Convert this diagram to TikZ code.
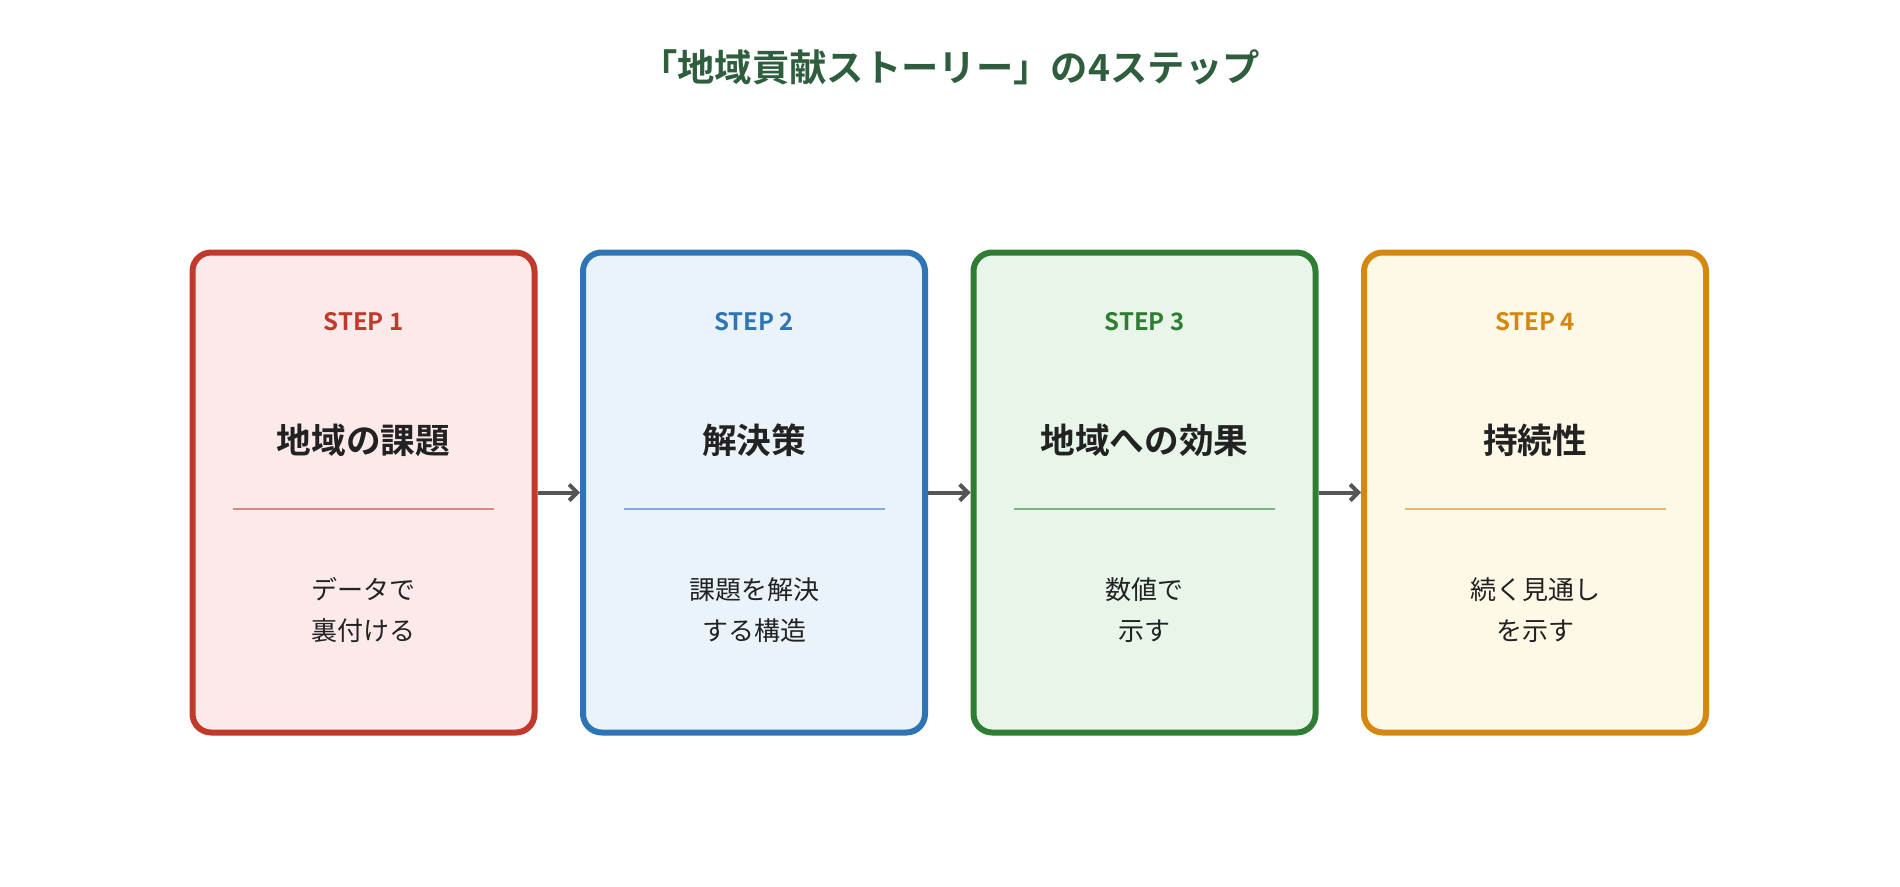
\documentclass[tikz,border=0pt]{standalone}
\usepackage{fontspec}
\setmainfont{Noto Sans CJK JP}[BoldFont={Noto Sans CJK JP Bold}]
\usetikzlibrary{arrows.meta, positioning}
\definecolor{titlegreen}{HTML}{2E5E3E}
\definecolor{ink}{HTML}{222222}
\definecolor{arrowgray}{HTML}{555555}
\definecolor{redline}{HTML}{C0392B}\definecolor{redfill}{HTML}{FCEAEB}
\definecolor{blueline}{HTML}{2E75B6}\definecolor{bluefill}{HTML}{EAF3FA}
\definecolor{greenline}{HTML}{2E7D32}\definecolor{greenfill}{HTML}{E8F5E9}
\definecolor{orangeline}{HTML}{D4880F}\definecolor{orangefill}{HTML}{FEF8E7}

\begin{document}
\begin{tikzpicture}[
      x=0.75pt, y=-0.75pt,
      card/.style={draw, line width=4.5pt, rounded corners=14pt, minimum width=342*0.75pt, minimum height=480*0.75pt, inner sep=0pt},
      steplabel/.style={font=\bfseries\fontsize{18}{22}\selectfont},
      heading/.style={font=\bfseries\fontsize{26}{30}\selectfont, text=ink},
      desc/.style={align=center, font=\fontsize{19.5}{31}\selectfont, text=ink},
      arrow/.style={-{Straight Barb[length=6pt, width=12pt]}, line width=3pt, draw=arrowgray}
    ]

    \useasboundingbox (0,0) rectangle (1900,886);

    \node[font=\bfseries\fontsize{28}{32}\selectfont, text=titlegreen] (title) at (950,67) {「地域貢献ストーリー」の4ステップ};

    \foreach \i/\col/\name/\txt [count=\n] in {
        0/red/地域の課題/{データで\\裏付ける},
        1/blue/解決策/{課題を解決\\する構造},
        2/green/地域への効果/{数値で\\示す},
        3/orange/持続性/{続く見通し\\を示す}} {
      \node[card, draw=\col line, fill=\col fill] (card\n) at (363.5+390.5*\i,492.5) {};
      \node[steplabel, text=\col line] (step\n) at (363.5+390.5*\i,322) {STEP \n};
      \node[heading] (head\n) at (363.5+390.5*\i,440) {\name};
      \draw[\col line!60, line width=0.9pt] (233+390.5*\i,509) -- (494+390.5*\i,509);
      \node[desc] (desc\n) at (363.5+390.5*\i,610) {\txt};
    }

    \draw[arrow] (card1.east) -- (card2.west);
    \draw[arrow] (card2.east) -- (card3.west);
    \draw[arrow] (card3.east) -- (card4.west);

\end{tikzpicture}
\end{document}
